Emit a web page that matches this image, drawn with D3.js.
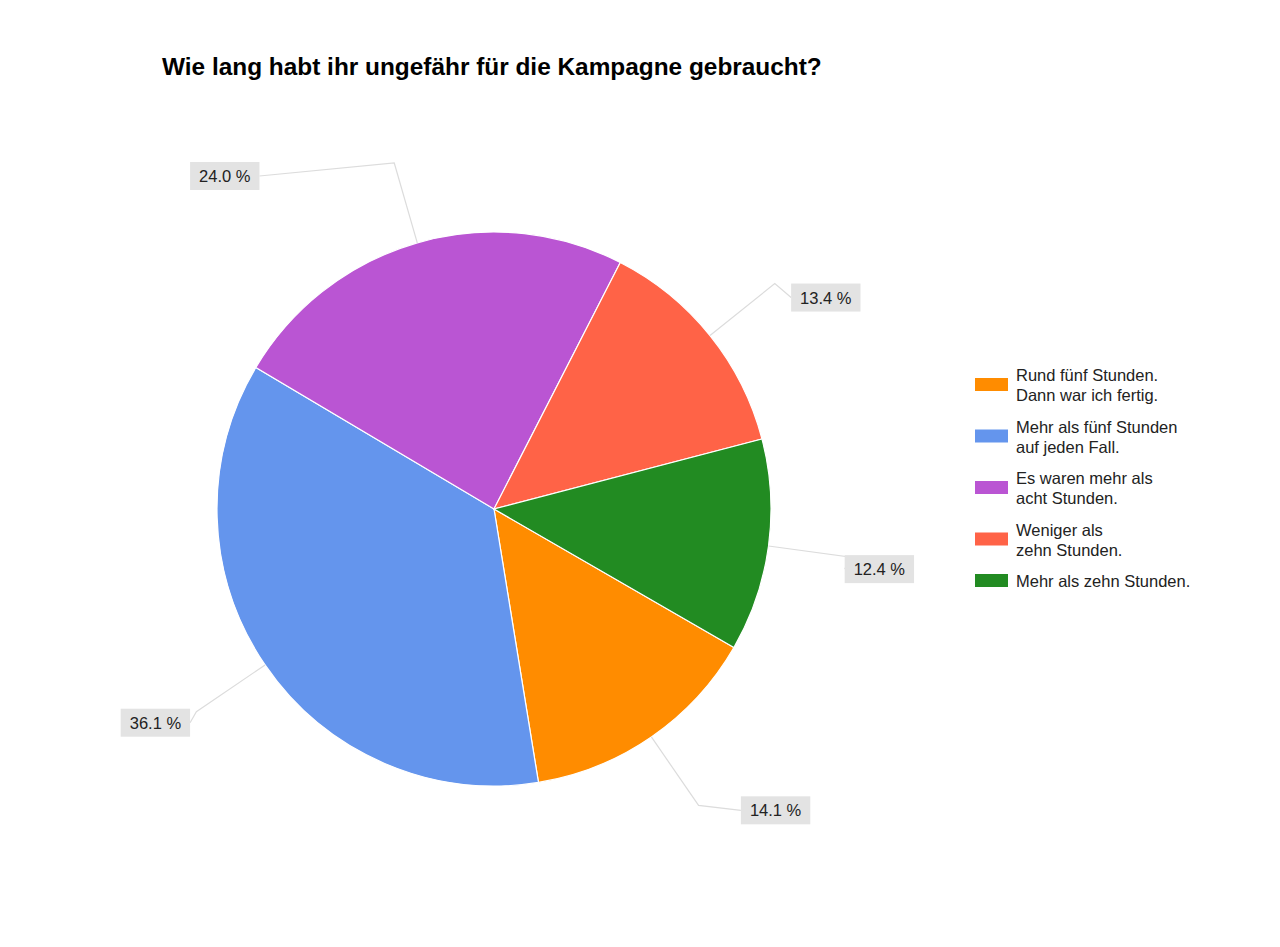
<!DOCTYPE html>
<html><head><meta charset="utf-8">
<script src="https://cdn.jsdelivr.net/npm/d3@7"></script>
<style>body{margin:0;background:#fff;} svg{display:block;}</style>
</head><body>
<svg id="chart" width="1280" height="947"></svg>
<script>
// ---- data ----
const title = "Wie lang habt ihr ungefähr für die Kampagne gebraucht?";
const categories = [
  ["Rund fünf Stunden.", "Dann war ich fertig."],
  ["Mehr als fünf Stunden", "auf jeden Fall."],
  ["Es waren mehr als", "acht Stunden."],
  ["Weniger als", "zehn Stunden."],
  ["Mehr als zehn Stunden."]
];
const values = [14.1, 36.1, 24.0, 13.4, 12.4];
const colors = ["#ff8c00", "#6495ed", "#ba55d3", "#ff6347", "#228b22"];

// ---- layout ----
const W = 1280, H = 947;
const cx = 494, cy = 509, R = 277;
const startAngle = 2 * Math.PI / 3;
const elbowR = R * 1.3;
// label box offsets from elbow point (layout only)
const labelOffsets = [[77, 5], [-41, 11], [-169.5, 13], [51, 14], [28.5, 12]];
const font = "Arial, 'Liberation Sans', sans-serif";

const svg = d3.select("#chart");
svg.append("rect").attr("width", W).attr("height", H).attr("fill", "#fff");

// title
const t = svg.append("text").attr("x", 162).attr("y", 75)
  .attr("font-family", font).attr("font-weight", "bold").attr("font-size", 23)
  .attr("fill", "#000").text(title);
const tw = t.node().getComputedTextLength();
t.attr("font-size", 23 * 660 / tw);

const pie = d3.pie().sort(null).value(d => d)
  .startAngle(startAngle).endAngle(startAngle + 2 * Math.PI);
const arcs = pie(values);
const arc = d3.arc().innerRadius(0).outerRadius(R);

const g = svg.append("g").attr("transform", `translate(${cx},${cy})`);

// leader lines
const pt = (a, r) => [Math.sin(a) * r, -Math.cos(a) * r];
const fmt = d3.format(".1f");

const labelG = g.append("g");
arcs.forEach((d, i) => {
  const mid = (d.startAngle + d.endAngle) / 2;
  const p0 = pt(mid, R);
  const p1 = pt(mid, elbowR);
  const c = [p1[0] + labelOffsets[i][0], p1[1] + labelOffsets[i][1]];
  const txt = labelG.append("text").attr("font-family", font).attr("font-size", 16.5)
    .attr("fill", "#222").attr("text-anchor", "middle")
    .attr("x", c[0]).attr("y", c[1] + 6).text(fmt(d.value) + " %");
  const w = txt.node().getComputedTextLength() + 18, h = 28;
  const right = c[0] > p1[0];
  const anchor = right ? [c[0] - w / 2, c[1]] : [c[0] + w / 2, c[1]];
  labelG.insert("polyline", ":first-child")
    .attr("points", [p0, p1, anchor].map(p => p.join(",")).join(" "))
    .attr("fill", "none").attr("stroke", "#dcdcdc").attr("stroke-width", 1.2);
  labelG.insert("rect", "text")
    .attr("x", c[0] - w / 2).attr("y", c[1] - h / 2).attr("width", w).attr("height", h)
    .attr("fill", "#e3e3e3");
  txt.raise();
});

// slices
g.append("g").selectAll("path").data(arcs).join("path")
  .attr("d", arc).attr("fill", (d, i) => colors[i])
  .attr("stroke", "#fff").attr("stroke-width", 1.2);

labelG.raise();

// legend
const lg = svg.append("g");
let y0 = 368;
categories.forEach((lines, i) => {
  const rowTop = 368 + i * 51.5;
  const blockH = (lines.length - 1) * 20 + 13;
  lg.append("rect").attr("x", 975).attr("y", rowTop + blockH / 2 - 6.5)
    .attr("width", 33).attr("height", 13).attr("fill", colors[i]);
  lines.forEach((ln, j) => {
    lg.append("text").attr("x", 1016).attr("y", rowTop + 13 + j * 20)
      .attr("font-family", font).attr("font-size", 16.5).attr("fill", "#222").text(ln);
  });
});
</script>
</body></html>
